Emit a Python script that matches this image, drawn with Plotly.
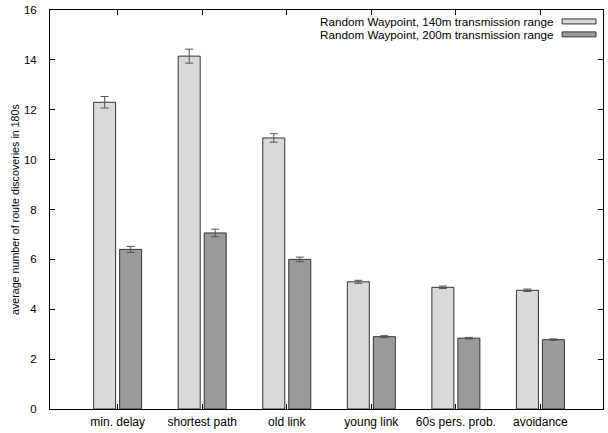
import plotly.graph_objects as go

categories = ["min. delay", "shortest path", "old link", "young link", "60s pers. prob.", "avoidance"]
series_names = ["Random Waypoint, 140m transmission range", "Random Waypoint, 200m transmission range"]
values_140 = [12.3, 14.15, 10.87, 5.1, 4.88, 4.76]
errors_140 = [0.23, 0.28, 0.17, 0.06, 0.05, 0.05]
values_200 = [6.4, 7.06, 6.0, 2.9, 2.84, 2.78]
errors_200 = [0.12, 0.15, 0.09, 0.04, 0.03, 0.03]
colors = ["#d9d9d9", "#9a9a9a"]
y_ticks = [0, 2, 4, 6, 8, 10, 12, 14, 16]

FONT = "Liberation Sans, Arial, Helvetica, sans-serif"

fig = go.Figure()
for name, vals, errs, col in [(series_names[0], values_140, errors_140, colors[0]),
                              (series_names[1], values_200, errors_200, colors[1])]:
    fig.add_trace(go.Bar(
        x=categories, y=vals, name=name,
        marker=dict(color=col, line=dict(color="#333333", width=1)),
        error_y=dict(type="data", array=errs, visible=True, color="#555555", thickness=1, width=4),
        showlegend=False,
    ))

W, H = 608, 433
ml, mr, mt, mb = 50, 4, 9, 23
pw, ph = W - ml - mr, H - mt - mb

def px_to_paper_x(px):
    return (px - ml) / pw

def px_to_paper_y(py):
    return 1 - (py - mt) / ph

# custom legend (text right of which a wide sample box sits)
leg_rows = [20.5, 33.5]
for i, (name, col) in enumerate(zip(series_names, colors)):
    yc = leg_rows[i]
    fig.add_annotation(xref="paper", yref="paper", x=px_to_paper_x(556), y=px_to_paper_y(yc),
                       text=name, showarrow=False, xanchor="right", yanchor="middle",
                       font=dict(family=FONT, size=11.7, color="#000"))
    fig.add_shape(type="rect", xref="paper", yref="paper",
                  x0=px_to_paper_x(563), x1=px_to_paper_x(597),
                  y0=px_to_paper_y(yc - 2.5), y1=px_to_paper_y(yc + 2.5),
                  fillcolor=col, line=dict(color="#333333", width=1))

# y axis title
fig.add_annotation(xref="paper", yref="paper", x=px_to_paper_x(15), y=px_to_paper_y(210),
                   text="average number of route discoveries in 180s", textangle=-90,
                   showarrow=False, xanchor="center", yanchor="middle",
                   font=dict(family=FONT, size=10.7, color="#000"))

fig.update_layout(
    width=W, height=H,
    margin=dict(l=ml, r=mr, t=mt, b=mb, pad=0),
    paper_bgcolor="white", plot_bgcolor="white",
    barmode="group", bargap=0.385, bargroupgap=0.154,
    font=dict(family=FONT, size=11, color="#000"),
    xaxis=dict(range=[-0.8, 5.74], showline=True, linecolor="#000", linewidth=1, mirror="ticks",
               ticks="inside", ticklen=5, tickcolor="#000", showgrid=False,
               tickfont=dict(family=FONT, size=12), ticklabelstandoff=2),
    yaxis=dict(range=[0, 16], tickvals=y_ticks, showline=True, linecolor="#000", linewidth=1,
               mirror="ticks", ticks="inside", ticklen=5, tickcolor="#000", showgrid=False,
               zeroline=False, tickfont=dict(family=FONT, size=11.5), ticklabelstandoff=10),
)

fig.write_html("out.html")
